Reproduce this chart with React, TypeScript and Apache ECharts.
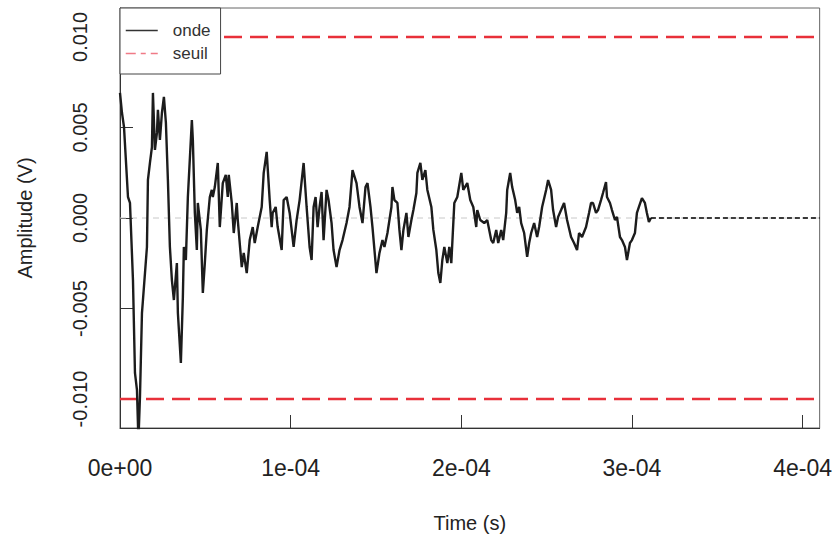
import React, { useEffect, useRef } from "react";
import * as echarts from "echarts";

// Waveform: time in microseconds, amplitude in millivolts
const timeUs = [
  0, 1.17, 2.34, 4.68, 5.85, 7.6, 8.77, 9.94, 10.8, 11.7, 12.87, 13.45, 15.79, 16.37, 17.54, 18.71,
  19.3, 20.47, 21.64, 22.22, 23.39, 24.56, 25.73, 26.9, 28.07, 29.24, 30.41, 31.58, 33.33, 33.92,
  35.67, 36.84, 37.43, 38.6, 39.77, 42.11, 42.69, 43.86, 45.03, 45.61, 47.37, 48.54, 49.71, 50.88,
  52.63, 53.8, 54.39, 55.56, 57.31, 58.48, 60.23, 61.99, 63.16, 63.74, 65.5, 66.67, 68.42, 69.01,
  71.35, 72.51, 74.27, 76.02, 77.78, 78.95, 80.7, 83.04, 84.21, 85.96, 87.72, 88.89, 89.47, 91.23,
  92.4, 94.74, 95.91, 97.66, 99.42, 101.75, 103.51, 105.26, 107.6, 109.36, 111.11, 112.28, 113.45,
  114.62, 115.79, 116.96, 118.13, 119.3, 121.05, 122.22, 123.98, 125.15, 126.9, 128.65, 130.41,
  132.75, 134.5, 136.26, 138.6, 140.35, 142.11, 143.86, 145.03, 146.78, 147.95, 150.29, 152.05,
  153.8, 154.97, 156.73, 159.06, 159.65, 160.82, 162.57, 163.74, 164.91, 166.08, 167.84, 169.01,
  170.76, 171.93, 173.68, 174.27, 176.02, 177.19, 178.95, 180.12, 182.46, 183.63, 185.38, 186.55,
  187.72, 188.89, 190.06, 191.81, 192.98, 194.15, 195.91, 197.66, 200.0, 201.17, 203.51, 205.26,
  207.02, 208.77, 209.36, 211.11, 213.45, 215.2, 217.54, 218.71, 220.47, 221.64, 223.39, 224.56,
  226.32, 226.9, 228.65, 229.82, 231.58, 232.75, 233.92, 235.09, 236.84, 238.6, 239.77, 240.94,
  242.69, 244.44, 245.61, 247.37, 249.71, 250.88, 252.63, 253.8, 255.56, 256.73, 258.48, 260.23,
  261.99, 264.33, 266.08, 267.84, 269.01, 270.76, 273.1, 274.85, 276.02, 277.19, 278.95, 280.12,
  281.87, 283.04, 284.8, 285.38, 287.13, 288.3, 290.06, 291.23, 292.98, 294.15, 295.91, 297.08,
  298.83, 300.0, 301.75, 302.92, 304.09, 305.85, 307.6, 308.77, 309.94, 311.11,
];
const ampMv = [
  6.91, 5.8, 5.03, 1.16, 0.83, -3.43, -8.56, -9.5, -12.3, -9.89, -5.25, -4.53, -1.6, 2.1, 3.04, 3.92,
  6.91, 3.76, 4.7, 5.97, 4.31, 5.8, 6.69, 5.25, 2.1, -1.6, -3.43, -4.53, -2.49, -5.25,
  -8.01, -4.36, -1.6, -2.32, 1.16, 5.41, 4.31, 0.28, -1.77, 0.83, -0.66, -4.14, -2.49, -0.66,
  1.16, 1.55, 1.16, 1.71, 3.04, -0.5, 1.93, 2.38, 1.16, 2.38, 0.83, -0.83, 0.83, -0.11,
  -2.71, -1.93, -3.04, -1.22, -0.5, -1.38, -0.5, 0.61, 2.49, 3.65, 0.99, -0.5, 0.28, 0.61,
  -0.5, -1.77, 0.99, 1.16, 0.28, -1.6, -0.11, 0.99, 3.04, 0.61, -1.6, -2.32, 0.61,
  1.16, -0.5, 0.61, 1.44, -1.22, 1.55, 0.99, -0.28, -1.77, -2.71, -1.77, -1.22,
  -0.28, 0.61, 2.65, 1.93, 0.61, -0.28, 1.71, 1.93, 0.61, -0.5, -3.04, -1.93,
  -1.22, -1.6, -0.83, 0.61, 1.71, 0.99, 0.83, -0.66, -1.77, -0.66, 0.28, -1.05,
  -0.11, 0.44, 1.38, 2.49, 3.04, 2.1, 2.65, 1.55, 0.61, -0.66, -1.77, -3.04,
  -3.59, -2.32, -1.6, -2.49, -1.6, -2.49, 0.83, 1.16, 2.49, 1.55, 1.93, 0.99,
  0.61, -0.5, 0.44, -0.11, -0.28, -0.11, -1.22, -1.38, -0.66, -1.38, -0.66, -1.22,
  0.28, 1.55, 2.49, 1.71, 0.99, 0.28, 0.61, -0.28, -0.83, -2.15, -1.38, -0.83,
  -0.28, -1.05, -0.5, 0.61, 1.55, 2.1, 1.55, 0.44, -0.5, 0.06, 0.44, 0.83,
  -0.11, -1.05, -1.38, -1.77, -0.83, -1.05, -0.5, 0.28, 0.83, 0.83, 0.28, 0.44,
  0.99, 1.38, 1.99, 1.16, 0.83, 0.44, -0.11, 0.06, -1.05, -1.22, -1.6, -2.32,
  -1.38, -1.22, -0.83, 0.28, 0.61, 1.1, 0.83, 0.28, -0.22, 0,
];

// Flat (zero) tail after the recorded wave, in microseconds
const tailUs = [311.11, 410];
// Threshold levels ("seuil"), volts
const seuilLevels = [0.01, -0.01];
// Axis ticks
const xTicks = [0, 1e-4, 2e-4, 3e-4, 4e-4];
const yTicks = [-0.01, -0.005, 0, 0.005, 0.01];
const xRange = [0, 4.1e-4];
const yRange = [-0.0116, 0.0116];

const FONT = "'Liberation Sans', Arial, Helvetica, sans-serif";

function sci(v: number): string {
  if (Math.abs(v) < 1e-15) return "0e+00";
  const e = Math.floor(Math.log10(Math.abs(v)) + 1e-9);
  const m = Math.round(v / Math.pow(10, e));
  const ae = Math.abs(e);
  return `${m}e${e < 0 ? "-" : "+"}${ae < 10 ? "0" + ae : ae}`;
}

export default function App() {
  const ref = useRef<HTMLDivElement>(null);
  useEffect(() => {
    document.body.style.margin = "0";
    if (!ref.current) return;
    const chart = echarts.init(ref.current, undefined, { renderer: "svg" });
    const wave = timeUs.map((t, i) => [t * 1e-6, ampMv[i] * 1e-3]);
    const tail = tailUs.map((t) => [t * 1e-6, 0]);
    const series: any[] = [
      {
        name: "zero",
        type: "line",
        data: [[xRange[0], 0], [xRange[1], 0]],
        symbol: "none",
        silent: true,
        lineStyle: { color: "#c8c8c8", width: 1, type: [6, 5] },
        z: 1,
      },
      {
        name: "onde",
        type: "line",
        data: wave,
        symbol: "none",
        lineStyle: { color: "#1c1c1c", width: 2.4 },
        itemStyle: { color: "#1c1c1c" },
        z: 3,
      },
      {
        name: "tail",
        type: "line",
        data: tail,
        symbol: "none",
        lineStyle: { color: "#000", width: 1.4, type: [5, 3] },
        z: 3,
      },
    ];
    seuilLevels.forEach((lv) => {
      series.push({
        name: "seuil",
        type: "line",
        data: [[xRange[0], lv], [xRange[1], lv]],
        symbol: "none",
        lineStyle: { color: "#e8303a", width: 2.5, type: [18, 8] },
        itemStyle: { color: "#e8303a" },
        z: 2,
      });
    });
    chart.setOption({
      animation: false,
      backgroundColor: "#fff",
      textStyle: { fontFamily: FONT },
      grid: {
        left: 120,
        right: 14,
        top: 8,
        bottom: 116,
        show: true,
        borderColor: "#666",
        borderWidth: 1,
        containLabel: false,
      },
      legend: {
        data: [
          { name: "onde", lineStyle: { color: "#333", width: 1.3, type: "solid" } },
          { name: "seuil", lineStyle: { color: "#f07a86", width: 1.5, type: [10, 5, 5, 5] } },
        ],
        orient: "vertical",
        left: 120,
        top: 8,
        backgroundColor: "#fff",
        borderColor: "#444",
        borderWidth: 1,
        borderRadius: 0,
        padding: [14, 10, 12, 5],
        itemWidth: 32,
        itemHeight: 14,
        itemGap: 6,
        itemStyle: { opacity: 0 },
        textStyle: { fontFamily: FONT, fontSize: 17, color: "#333", padding: [0, 0, 0, 10] },
      },
      xAxis: {
        type: "value",
        min: xRange[0],
        max: xRange[1],
        name: "Time (s)",
        nameLocation: "middle",
        nameGap: 85,
        nameTextStyle: { fontFamily: FONT, fontSize: 20, color: "#222" },
        axisLine: { show: true, onZero: false, lineStyle: { color: "#333", width: 1 } },
        axisTick: { show: true, inside: true, length: 13, customValues: xTicks, lineStyle: { color: "#333" } },
        axisLabel: {
          customValues: xTicks,
          formatter: (v: number) => sci(v),
          margin: 28,
          fontFamily: FONT,
          fontSize: 23,
          color: "#222",
        },
        splitLine: { show: false },
      },
      yAxis: {
        type: "value",
        min: yRange[0],
        max: yRange[1],
        name: "Amplitude (V)",
        nameLocation: "middle",
        nameRotate: 90,
        nameGap: 85,
        nameTextStyle: { fontFamily: FONT, fontSize: 20, color: "#222" },
        axisLine: { show: true, onZero: false, lineStyle: { color: "#333", width: 1 } },
        axisTick: { show: true, inside: true, length: 13, customValues: yTicks, lineStyle: { color: "#333" } },
        axisLabel: {
          customValues: yTicks,
          rotate: 90,
          formatter: (v: number) => v.toFixed(3),
          margin: 30,
          fontFamily: FONT,
          fontSize: 20,
          color: "#222",
        },
        splitLine: { show: false },
      },
      series,
    });
    return () => chart.dispose();
  }, []);
  return <div ref={ref} style={{ width: 835, height: 544 }} />;
}
